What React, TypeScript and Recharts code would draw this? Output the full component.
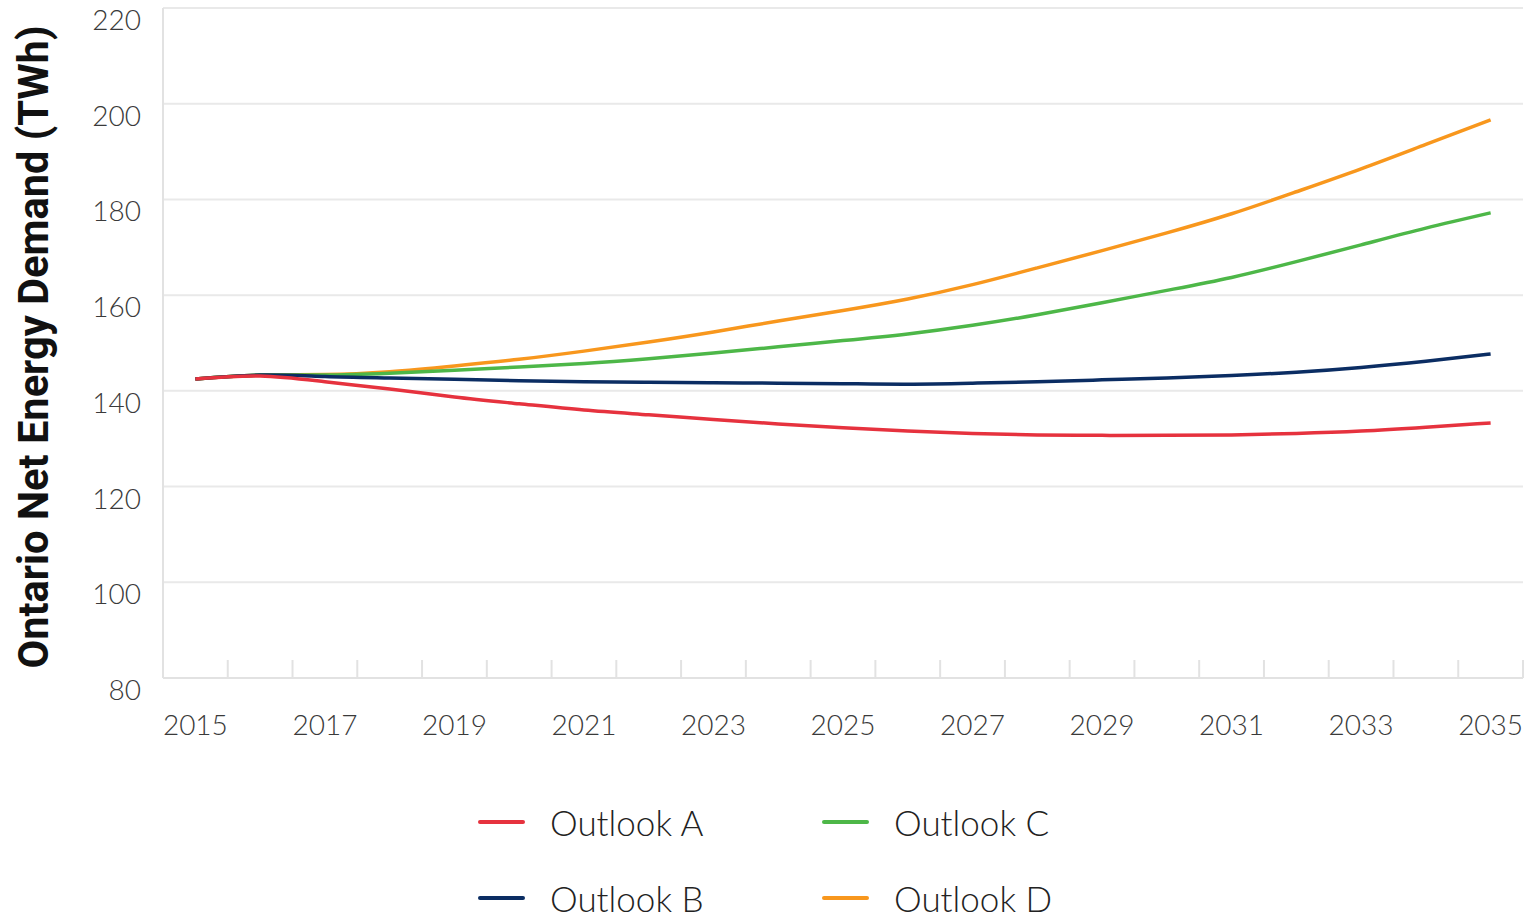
import React from 'react';
import { LineChart, Line, XAxis, YAxis, CartesianGrid, Legend } from 'recharts';

// net energy demand, TWh
const years = [2015, 2016, 2017, 2018, 2019, 2020, 2021, 2022, 2023, 2024, 2025, 2026, 2027, 2028, 2029, 2030, 2031, 2032, 2033, 2034, 2035];
const outlookA = [142.5, 143.1, 141.9, 140.4, 138.7, 137.3, 136.0, 135.0, 134.0, 133.1, 132.3, 131.6, 131.1, 130.8, 130.7, 130.7, 130.8, 131.1, 131.6, 132.4, 133.3];
const outlookB = [142.5, 143.3, 143.0, 142.7, 142.4, 142.1, 141.9, 141.8, 141.7, 141.6, 141.5, 141.4, 141.6, 141.9, 142.3, 142.7, 143.2, 143.9, 144.9, 146.2, 147.7];
const outlookC = [142.5, 143.3, 143.3, 143.7, 144.3, 145.0, 145.7, 146.7, 147.9, 149.2, 150.5, 151.9, 153.7, 155.9, 158.4, 161.0, 163.7, 167.0, 170.5, 174.0, 177.2];
const outlookD = [142.5, 143.3, 143.4, 144.0, 145.2, 146.6, 148.3, 150.2, 152.3, 154.6, 156.8, 159.2, 162.2, 165.7, 169.3, 173.0, 177.0, 181.6, 186.4, 191.5, 196.6];

const yTicks = [80, 100, 120, 140, 160, 180, 200, 220];
const xLabelYears = [2015, 2017, 2019, 2021, 2023, 2025, 2027, 2029, 2031, 2033, 2035];

const data = years.map((year, i) => ({
  year,
  a: outlookA[i],
  b: outlookB[i],
  c: outlookC[i],
  d: outlookD[i],
}));

// category boundaries get a tick mark, every other year gets a label
const xTicks = [...years.map((y) => y - 0.5), ...years, years[years.length - 1] + 0.5].sort((p, q) => p - q);

const font = 'Lato, "Open Sans", sans-serif';
const axisGray = '#e2e2e2';

const XTick = (props: any) => {
  const { x, y, payload } = props;
  const v = payload.value;
  if (!Number.isInteger(v)) {
    return <line x1={x} x2={x} y1={y} y2={y - 18} stroke={axisGray} strokeWidth={2} />;
  }
  if (!xLabelYears.includes(v)) return <g />;
  return (
    <text x={x} y={y + 57} textAnchor="middle" fontSize={28} fontWeight={300} fill="#3a3a3a" fontFamily={font}>
      {v}
    </text>
  );
};

const YTick = (props: any) => {
  const { x, y, payload } = props;
  return (
    <text x={x} y={y + 22} textAnchor="end" fontSize={28} fontWeight={300} fill="#3a3a3a" fontFamily={font}>
      {payload.value}
    </text>
  );
};

const AxisTitle = (props: any) => {
  const vb = props.viewBox || { y: 8, height: 670 };
  const cx = 48;
  const cy = vb.y + vb.height / 2 + 4;
  return (
    <text
      x={cx}
      y={cy}
      transform={`rotate(-90, ${cx}, ${cy})`}
      textAnchor="middle"
      fontSize={42}
      fontWeight={700}
      fill="#111"
      fontFamily='Roboto, "Noto Sans", sans-serif'
      textLength={643}
      lengthAdjust="spacingAndGlyphs"
    >
      Ontario Net Energy Demand (TWh)
    </text>
  );
};

const LegendBox = (props: any) => {
  const items = [...(props.payload || [])].sort((p: any, q: any) => String(p.value).localeCompare(String(q.value)));
  return (
    <div
      style={{
        display: 'grid',
        gridTemplateColumns: '344px 344px',
        gridTemplateRows: '76px 76px',
        gridAutoFlow: 'column',
      }}
    >
      {items.map((it: any) => (
        <div key={it.value} style={{ display: 'flex', alignItems: 'center', height: 76 }}>
          <span style={{ width: 47, height: 4, borderRadius: 2, background: it.color, marginRight: 25 }} />
          <span style={{ fontFamily: font, fontWeight: 300, fontSize: 35, lineHeight: 1, color: '#222' }}>{it.value}</span>
        </div>
      ))}
    </div>
  );
};

export default function App() {
  return (
    <div style={{ position: 'absolute', left: 0, top: 0, background: '#fff' }}>
      <LineChart width={1539} height={918} data={data} margin={{ top: 8, right: 16, left: 0, bottom: 180 }}>
        <CartesianGrid vertical={false} stroke="#e9e9e9" strokeWidth={2} />
        <XAxis
          dataKey="year"
          type="number"
          domain={[2014.5, 2035.5]}
          ticks={xTicks}
          interval={0}
          height={60}
          tickLine={false}
          tickSize={0}
          tickMargin={0}
          axisLine={{ stroke: axisGray, strokeWidth: 2 }}
          tick={<XTick />}
        />
        <YAxis
          type="number"
          domain={[80, 220]}
          ticks={yTicks}
          interval={0}
          width={163}
          tickLine={false}
          tickSize={0}
          tickMargin={22}
          axisLine={{ stroke: axisGray, strokeWidth: 2 }}
          tick={<YTick />}
          label={{ content: (p: any) => <AxisTitle {...p} /> }}
        />
        <Legend
          layout="horizontal"
          verticalAlign="middle"
          align="center"
          wrapperStyle={{ position: 'absolute', left: 478, top: 784, width: 700 }}
          content={<LegendBox />}
        />
        <Line name="Outlook D" dataKey="d" type="natural" stroke="#f8971d" strokeWidth={3.5} dot={false} isAnimationActive={false} />
        <Line name="Outlook C" dataKey="c" type="natural" stroke="#4db748" strokeWidth={3.5} dot={false} isAnimationActive={false} />
        <Line name="Outlook B" dataKey="b" type="natural" stroke="#0b2d63" strokeWidth={3.5} dot={false} isAnimationActive={false} />
        <Line name="Outlook A" dataKey="a" type="natural" stroke="#e6323e" strokeWidth={3.5} dot={false} isAnimationActive={false} />
      </LineChart>
    </div>
  );
}
